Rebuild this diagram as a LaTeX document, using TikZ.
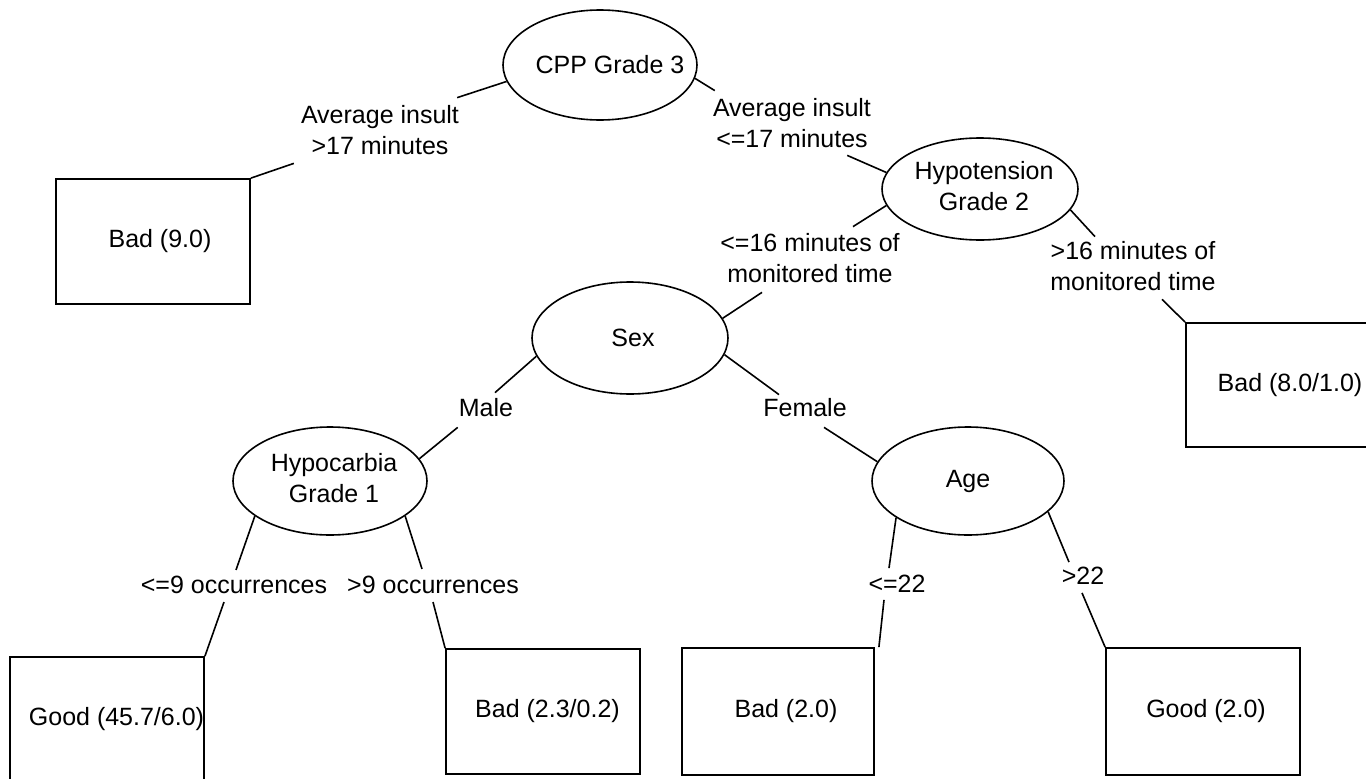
\documentclass[tikz,border=0pt]{standalone}
\usepackage{fontspec}
\setmainfont{Liberation Sans}
\usetikzlibrary{shapes.geometric}
\begin{document}
\begin{tikzpicture}[x=1pt,y=-1pt,
  every node/.style={font=\fontsize{25}{31}\selectfont},
  ell/.style={ellipse, draw, line width=1.6pt, inner sep=0pt},
  leaf/.style={rectangle, draw, line width=1.8pt, inner sep=0pt, minimum width=194pt, minimum height=125pt},
  lab/.style={align=center, inner sep=2pt},
  conn/.style={line width=1.6pt}]
\fill[white] (0,0) rectangle (1366,779);
\useasboundingbox (0,0) rectangle (1366,779);
\clip (0,0) rectangle (1366,779);

% decision nodes
\node[ell, minimum width=194pt, minimum height=110pt] (cpp) at (600,65) {\makebox[0pt]{\hspace*{20pt}CPP Grade 3}};
\node[ell, minimum width=196pt, minimum height=102pt] (hyp) at (980,189) {\makebox[0pt]{\hspace*{8pt}\begin{tabular}{@{}c@{}}Hypotension\\Grade 2\end{tabular}}};
\node[ell, minimum width=196pt, minimum height=112pt] (sex) at (630,338) {\makebox[0pt]{\hspace*{6pt}Sex}};
\node[ell, minimum width=194pt, minimum height=108pt] (hca) at (330,481) {\makebox[0pt]{\hspace*{8pt}\begin{tabular}{@{}c@{}}Hypocarbia\\Grade 1\end{tabular}}};
\node[ell, minimum width=192pt, minimum height=108pt] (age) at (968,481) {\makebox[0pt]{Age}};

% leaves
\node[leaf] (b9) at (153,241.5) {\hspace*{14pt}Bad (9.0)};
\node[leaf, minimum height=124pt] (b8) at (1283,385) {\hspace*{14pt}Bad (8.0/1.0)};
\node[leaf] (g45) at (107,719.5) {\hspace*{19pt}Good (45.7/6.0)};
\node[leaf] (b23) at (543,711.5) {\hspace*{9pt}Bad (2.3/0.2)};
\node[leaf, minimum width=192pt, minimum height=127pt] (b2) at (778,711.5) {\hspace*{16pt}Bad (2.0)};
\node[leaf, minimum height=127pt] (g2) at (1203,711.5) {\hspace*{6pt}Good (2.0)};

% branch labels
\node[lab] (l1) at (380,130.5) {Average insult\\ >17 minutes};
\node[lab] (l2) at (792,123.5) {Average insult\\ <=17 minutes};
\node[lab] (l3) at (810,258.5) {<=16 minutes of\\ monitored time};
\node[lab] (l4) at (1133,266.5) {>16 minutes of\\ monitored time};
\node[lab] (lmale) at (486,408) {Male};
\node[lab] (lfem) at (805,408) {Female};
\node[lab] (l9a) at (234,585) {<=9 occurrences};
\node[lab] (l9b) at (433,585) {>9 occurrences};
\node[lab] (l22a) at (897,584) {<=22};
\node[lab] (l22b) at (1083,576) {>22};

% connectors
\draw[conn] (cpp.190) -- ([shift={(-4,-6)}]l1.north east);
\draw[conn] ([shift={(-5,6)}]l1.south west) -- (b9.north east);
\draw[conn] (cpp.-8) -- ([shift={(4,-6)}]l2.north west);
\draw[conn] ([shift={(-26,5)}]l2.south east) -- (hyp.170);
\draw[conn] (hyp.190) -- ([shift={(43,-5)}]l3.north);
\draw[conn] ([shift={(-48,7)}]l3.south) -- (sex.12);
\draw[conn] (hyp.-13) -- ([shift={(-38,-3)}]l4.north);
\draw[conn] ([shift={(29,6)}]l4.south) -- (b8.north west);
\draw[conn] (sex.191) -- ([shift={(9,-4)}]lmale.north);
\draw[conn] ([shift={(1,8)}]lmale.south west) -- (hca.14);
\draw[conn] (sex.-10) -- ([shift={(-26,-2)}]lfem.north);
\draw[conn] ([shift={(19,8)}]lfem.south) -- (age.168);
\draw[conn] (hca.205) -- ([shift={(2,-4)}]l9a.north);
\draw[conn] ([shift={(-10,6)}]l9a.south) -- (g45.north east);
\draw[conn] (hca.-25) -- ([shift={(-11,-5)}]l9b.north);
\draw[conn] ([shift={(0,6)}]l9b.south) -- (b23.north west);
\draw[conn] (age.207) -- ([shift={(-8,-5)}]l22a.north);
\draw[conn] ([shift={(-13,5)}]l22a.south) -- ([shift={(4,0)}]b2.north east);
\draw[conn] (age.-21) -- ([shift={(-14,-3)}]l22b.north);
\draw[conn] ([shift={(-1,6)}]l22b.south) -- (g2.north west);
\end{tikzpicture}
\end{document}
